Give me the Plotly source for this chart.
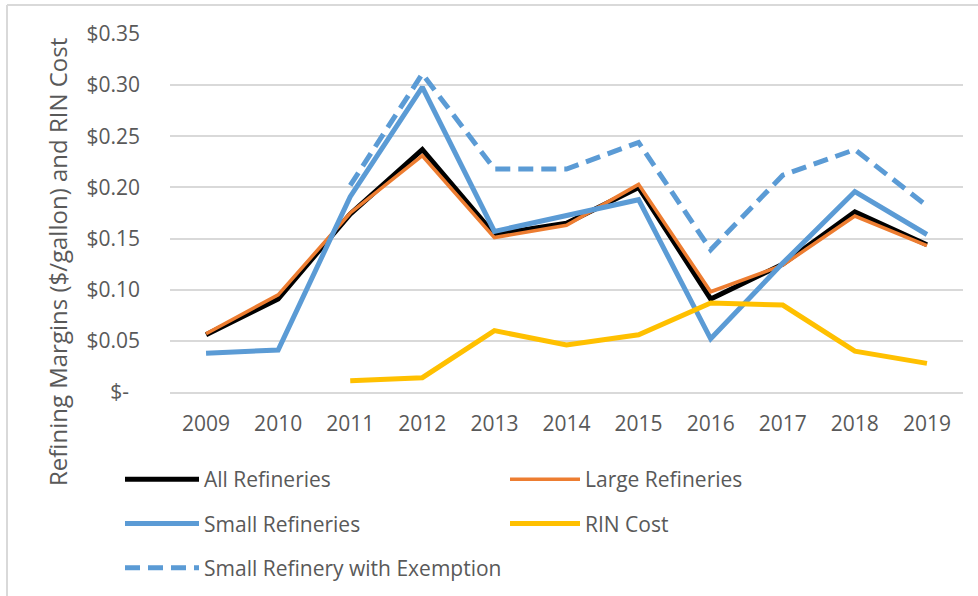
import plotly.graph_objects as go

years = ["2009", "2010", "2011", "2012", "2013", "2014", "2015", "2016", "2017", "2018", "2019"]

all_refineries = [0.056, 0.091, 0.174, 0.237, 0.154, 0.165, 0.200, 0.091, 0.125, 0.176, 0.144]
large_refineries = [0.057, 0.095, 0.175, 0.231, 0.151, 0.163, 0.203, 0.098, 0.124, 0.172, 0.143]
small_refineries = [0.038, 0.041, 0.191, 0.298, 0.157, 0.172, 0.188, 0.052, 0.126, 0.196, 0.154]
rin_cost = [None, None, 0.011, 0.014, 0.060, 0.046, 0.056, 0.087, 0.085, 0.040, 0.028]
small_exemption = [None, None, 0.202, 0.311, 0.218, 0.218, 0.244, 0.139, 0.212, 0.237, 0.182]

y_tickvals = [0, 0.05, 0.10, 0.15, 0.20, 0.25, 0.30, 0.35]
y_ticktext = ["$-\u00a0\u00a0", "$0.05", "$0.10", "$0.15", "$0.20", "$0.25", "$0.30", "$0.35"]

W, H = 978, 596
PLOT_L, PLOT_R, PLOT_T, PLOT_B = 170, 963, 34, 392  # screen px
L, T = PLOT_L, PLOT_T
R = W - PLOT_R
B = H - PLOT_B
PW, PH = PLOT_R - PLOT_L, PLOT_B - PLOT_T


def px_x(p):
    return (p - PLOT_L) / PW


def px_y(p):
    return (PLOT_B - p) / PH


FONT = "Open Sans"
GRAY = "#595959"

fig = go.Figure()
fig.add_trace(go.Scatter(x=years, y=all_refineries, mode="lines", name="All Refineries",
                         line=dict(color="#000000", width=5), legend="legend", legendgroup="a"))
fig.add_trace(go.Scatter(x=years, y=large_refineries, mode="lines", name="Large Refineries",
                         line=dict(color="#ED7D31", width=3.5), legend="legend2", legendgroup="b"))
fig.add_trace(go.Scatter(x=years, y=small_refineries, mode="lines", name="Small Refineries",
                         line=dict(color="#5B9BD5", width=5), legend="legend", legendgroup="c"))
fig.add_trace(go.Scatter(x=years, y=rin_cost, mode="lines", name="RIN Cost",
                         line=dict(color="#FFC000", width=5), legend="legend2", legendgroup="d"))
fig.add_trace(go.Scatter(x=years, y=small_exemption, mode="lines", name="Small Refinery with Exemption",
                         line=dict(color="#5B9BD5", width=5, dash="15px,8px"), legend="legend", legendgroup="e"))

legend_common = dict(
    orientation="v", xanchor="left", yanchor="top",
    font=dict(family=FONT, size=21, color=GRAY),
    bgcolor="rgba(0,0,0,0)", tracegroupgap=14,
)

fig.update_layout(
    width=W, height=H,
    margin=dict(l=L, r=R, t=T, b=B, autoexpand=False),
    paper_bgcolor="white", plot_bgcolor="white",
    font=dict(family=FONT, color=GRAY),
    xaxis=dict(type="category", range=[-0.5, 10.5], showgrid=False, ticks="",
               showline=True, linecolor="#D9D9D9", linewidth=2,
               tickfont=dict(family=FONT, size=21, color=GRAY), ticklabelstandoff=12,
               fixedrange=True),
    yaxis=dict(range=[0, 0.35], tickvals=y_tickvals, ticktext=y_ticktext,
               showgrid=True, gridcolor="#D9D9D9", gridwidth=2, zeroline=False,
               showline=False, ticks="",
               tickfont=dict(family=FONT, size=21, color=GRAY), ticklabelstandoff=29,
               fixedrange=True),
    legend=dict(x=px_x(120), y=px_y(459), itemwidth=74, **legend_common),
    legend2=dict(x=px_x(505), y=px_y(459), itemwidth=70, **legend_common),
    showlegend=True,
    annotations=[dict(text="Refining Margins ($/gallon) and RIN Cost", xref="paper", yref="paper",
                      x=px_x(57), y=px_y(262), textangle=-90, showarrow=False,
                      xanchor="center", yanchor="middle",
                      font=dict(family=FONT, size=24, color=GRAY))],
    shapes=[
        dict(type="line", xref="paper", yref="paper", x0=px_x(7), x1=px_x(990), y0=px_y(5), y1=px_y(5),
             line=dict(color="#D9D9D9", width=2)),
        dict(type="line", xref="paper", yref="paper", x0=px_x(7), x1=px_x(7), y0=px_y(5), y1=px_y(600),
             line=dict(color="#D9D9D9", width=2)),
    ],
)

fig.write_html("out.html", config={"displayModeBar": False},
               post_script="document.body.style.margin='0px';")
